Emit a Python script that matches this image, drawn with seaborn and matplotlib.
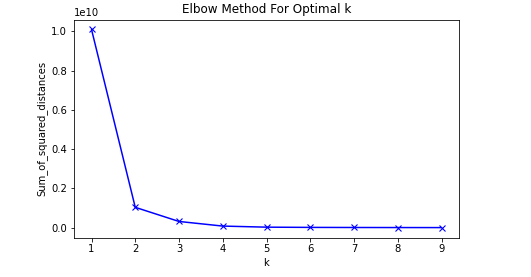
import pandas as pd
import matplotlib
matplotlib.use('Agg')
import matplotlib.pyplot as plt
import seaborn as sns

k_values = [1, 2, 3, 4, 5, 6, 7, 8, 9]
sum_of_squared_distances = [1.01e10, 1.04e9, 3.2e8, 8.5e7, 3.0e7, 1.8e7, 1.3e7, 1.0e7, 8.0e6]

df = pd.DataFrame({'k': k_values, 'ssd': sum_of_squared_distances})

sns.set_style('ticks')
plt.rcParams['font.family'] = ['DejaVu Sans']
plt.rcParams['text.color'] = 'black'
plt.rcParams['axes.labelcolor'] = 'black'
plt.rcParams['xtick.color'] = 'black'
plt.rcParams['ytick.color'] = 'black'

fig, ax = plt.subplots(figsize=(531 / 72, 277 / 72), dpi=72)
fig.subplots_adjust(left=74 / 531, right=459 / 531, top=1 - 19.5 / 277, bottom=1 - 237.5 / 277)

sns.lineplot(data=df, x='k', y='ssd', color='blue', marker='x', markersize=6,
             markeredgecolor='blue', markeredgewidth=1.1, linewidth=1.5, ax=ax)

ax.set_xlabel('k', fontsize=10)
ax.set_ylabel('Sum_of_squared_distances', fontsize=10)
ax.set_title('Elbow Method For Optimal k', fontsize=12)
ax.set_xticks(k_values)
ax.tick_params(labelsize=10, direction='out', length=3.5)
for s in ax.spines.values():
    s.set_color('black')
    s.set_linewidth(0.8)

fig.savefig('out.png', dpi=72)
